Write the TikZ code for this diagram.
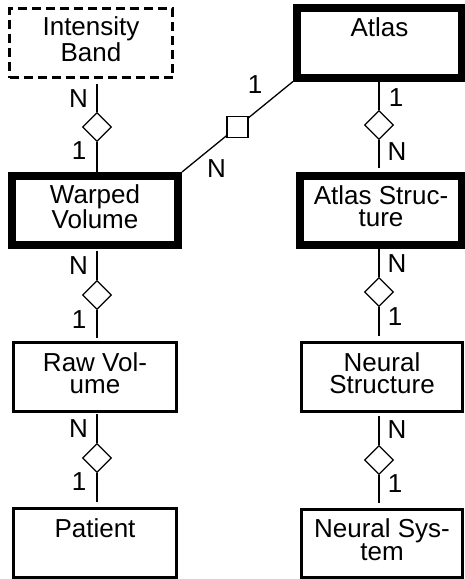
\documentclass[tikz,border=0pt]{standalone}
\usepackage{fontspec}
\setmainfont{Liberation Sans}
\usetikzlibrary{shapes.geometric}
\begin{document}
\begin{tikzpicture}[x=1pt,y=-1pt,
  every node/.style={font=\fontsize{26}{22}\selectfont, inner sep=0pt},
  ent/.style={draw, rectangle, align=center, line width=3pt, fill=white},
  strong/.style={ent, line width=8pt},
  weak/.style={ent, dashed, dash pattern=on 9pt off 5pt},
  twoline/.style={text depth=8pt},
  oneline/.style={text depth=30pt},
  rel/.style={draw, diamond, aspect=1, minimum width=29pt, minimum height=29pt, line width=1.3pt, fill=white},
  sq/.style={draw, rectangle, minimum width=21pt, minimum height=21pt, line width=1.3pt, fill=white},
  conn/.style={line width=1.3pt},
  card/.style={anchor=center}
]
\useasboundingbox (0,0) rectangle (464,579);
% entities
\node[weak, twoline, minimum width=163pt, minimum height=69pt] (ib) at (91,43) {Intensity\\Band};
\node[strong, twoline, minimum width=166pt, minimum height=69pt] (wv) at (95,210.5) {Warped\\Volume};
\node[ent, twoline, minimum width=163pt, minimum height=69pt] (rv) at (95,377) {Raw Vol-\\ume};
\node[ent, oneline, minimum width=163pt, minimum height=68.5pt] (pt) at (95,542.75) {Patient};
\node[strong, oneline, minimum width=165pt, minimum height=70pt] (at) at (379.5,42.5) {Atlas};
\node[strong, twoline, minimum width=162pt, minimum height=69pt] (as) at (381,210.5) {Atlas Struc-\\ture};
\node[ent, twoline, minimum width=161pt, minimum height=69pt] (ns) at (382,377) {Neural\\Structure};
\node[ent, twoline, minimum width=161pt, minimum height=67.5pt] (ny) at (382,543.25) {Neural Sys-\\tem};
% relationships
\node[rel] (d1) at (97,127) {};
\node[rel] (d2) at (97,295) {};
\node[rel] (d3) at (97,458) {};
\node[rel] (d4) at (379,125) {};
\node[rel] (d5) at (379,292) {};
\node[rel] (d6) at (379,460) {};
% connectors left
\draw[conn, shorten >=5pt] (d1.north) -- (d1.north |- ib.south);
\draw[conn, shorten >=-1pt] (d1.south) -- (d1.south |- wv.north);
\draw[conn, shorten >=2pt] (d2.north) -- (d2.north |- wv.south);
\draw[conn, shorten >=3pt] (d2.south) -- (d2.south |- rv.north);
\draw[conn, shorten >=1pt] (d3.north) -- (d3.north |- rv.south);
\draw[conn, shorten >=5pt] (d3.south) -- (d3.south |- pt.north);
% connectors right
\draw[conn] (d4.north) -- (d4.north |- at.south);
\draw[conn, shorten >=4pt] (d4.south) -- (d4.south |- as.north);
\draw[conn] (d5.north) -- (d5.north |- as.south);
\draw[conn, shorten >=5pt] (d5.south) -- (d5.south |- ns.north);
\draw[conn, shorten >=3pt] (d6.north) -- (d6.north |- ns.south);
\draw[conn, shorten >=5pt] (d6.south) -- (d6.south |- ny.north);
% diagonal
\draw[conn] (at.south west) -- (wv.north east);
\node[sq] (s1) at (237.5,127) {};
% cardinalities
\node[card] (c1) at (78.5,98.5) {N};
\node[card] (c2) at (79,151) {1};
\node[card] (c3) at (78.5,266) {N};
\node[card] (c4) at (79,320) {1};
\node[card] (c5) at (78.5,429) {N};
\node[card] (c6) at (79,481.5) {1};
\node[card] (c7) at (396,98) {1};
\node[card] (c8) at (397,152) {N};
\node[card] (c9) at (397,263.5) {N};
\node[card] (c10) at (395,316.5) {1};
\node[card] (c11) at (397,430) {N};
\node[card] (c12) at (395,484) {1};
\node[card] (c13) at (255,85) {1};
\node[card] (c14) at (216.5,168.5) {N};
\end{tikzpicture}
\end{document}
